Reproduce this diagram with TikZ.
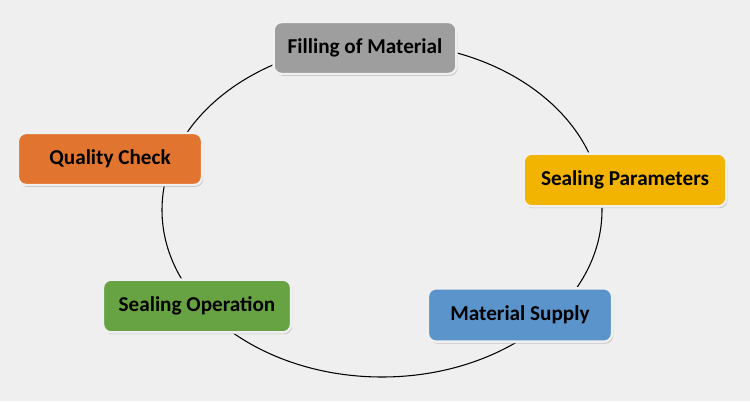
\documentclass[tikz,border=0pt]{standalone}
\usepackage{fontspec}
\setmainfont{Carlito}
\usepackage{xcolor}
\usepackage{tikz}
\usetikzlibrary{shadows}

\definecolor{bgcol}{HTML}{EFEFEF}
\definecolor{fillgray}{HTML}{9E9E9E}
\definecolor{sealyellow}{HTML}{F2B400}
\definecolor{supplyblue}{HTML}{5A94CB}
\definecolor{opgreen}{HTML}{67A343}
\definecolor{checkorange}{HTML}{E1752F}

\tikzset{
  stepbox/.style={rounded corners=6pt, draw=white!88!gray, line width=1.8pt,
    minimum height=39pt, font=\bfseries\fontsize{15.9}{18}\selectfont,
    text=black, drop shadow={shadow xshift=0.9pt, shadow yshift=-1.4pt, fill=black!35, opacity=0.6}}
}

\begin{document}
\begin{tikzpicture}[x=0.75pt, y=-0.75pt]
\fill[bgcol] (0,0) rectangle (750,401);
\useasboundingbox (0,0) rectangle (750,401);
\draw[black, line width=0.8pt] (382,210) ellipse [x radius=220, y radius=167];
\node[stepbox, fill=fillgray, minimum width=137pt] (filling) at (365,48) {Filling of Material};
\node[stepbox, fill=sealyellow, minimum width=152pt, minimum height=39.5pt] (params) at (625,180) {Sealing Parameters};
\node[stepbox, fill=supplyblue, minimum width=138pt, minimum height=40pt] (supply) at (520,315) {Material Supply};
\node[stepbox, fill=opgreen, minimum width=141pt, minimum height=39.5pt] (operation) at (197,306) {Sealing Operation};
\node[stepbox, fill=checkorange, minimum width=138pt] (check) at (110,159) {Quality Check};
\end{tikzpicture}
\end{document}
